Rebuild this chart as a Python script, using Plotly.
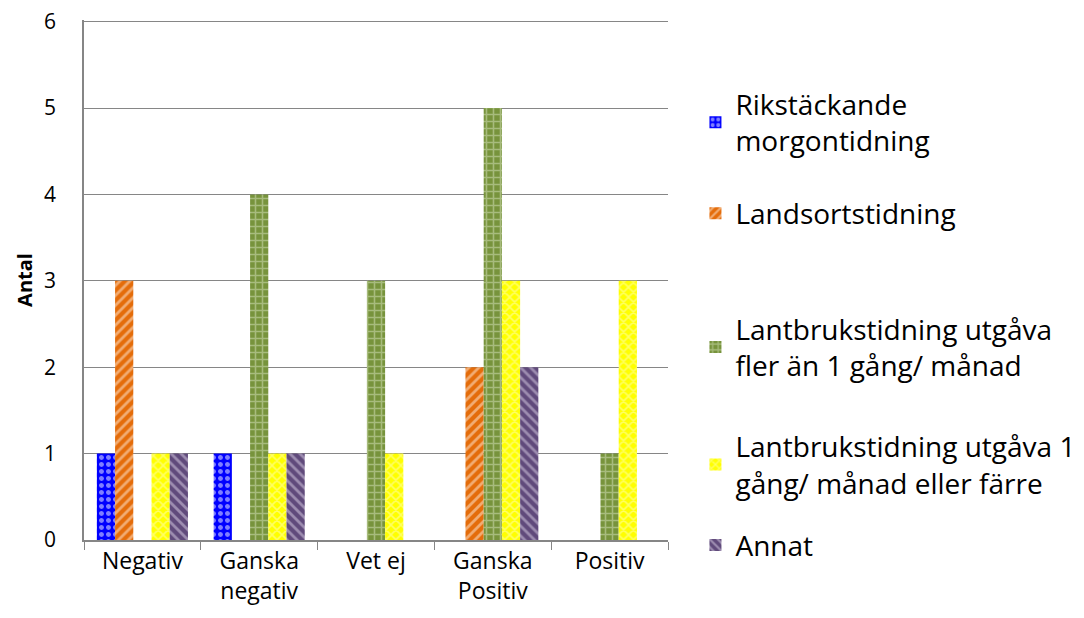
import plotly.graph_objects as go

categories = ["Negativ", "Ganska<br>negativ", "Vet ej", "Ganska<br>Positiv", "Positiv"]

series_names = [
    "Rikstäckande<br>morgontidning",
    "Landsortstidning",
    "Lantbrukstidning utgåva<br>fler än 1 gång/ månad",
    "Lantbrukstidning utgåva 1<br>gång/ månad eller färre",
    "Annat",
]

rikstackande = [1, 1, 0, 0, 0]
landsort = [3, 0, 0, 2, 0]
lantbruk_fler = [0, 4, 3, 5, 1]
lantbruk_en = [1, 1, 1, 3, 3]
annat = [1, 1, 0, 2, 0]

values = [rikstackande, landsort, lantbruk_fler, lantbruk_en, annat]

# bg colour, pattern shape, pattern colour
styles = [
    ("#0000FF", ".", "white"),
    ("#E46C0A", "/", "#FDEBDB"),
    ("#77933C", "+", "#D7E4BD"),
    ("#FFFF00", "x", "#FFFFC8"),
    ("#604A7B", "\\", "#D9D0E6"),
]

# Excel spreads the legend entries unevenly, so each one gets its own legend box
legend_ids = ["legend", "legend2", "legend3", "legend4", "legend5"]
legend_y = [0.803, 0.628, 0.371, 0.145, -0.01]

fig = go.Figure()
for name, vals, (bg, shape, fg), lid in zip(series_names, values, styles, legend_ids):
    fig.add_trace(go.Bar(
        x=categories, y=vals, name=name, legend=lid, showlegend=True,
        marker=dict(
            color=bg,
            line=dict(width=0),
            pattern=dict(shape=shape, fgcolor=fg, bgcolor=bg,
                         size=7, solidity=0.4, fillmode="overlay"),
        ),
    ))

legend_style = dict(x=1.047, xanchor="left", yanchor="middle",
                    font=dict(size=28), itemwidth=30, bgcolor="rgba(0,0,0,0)")

fig.update_layout(
    width=1084, height=618,
    showlegend=True,
    barmode="group", bargap=0.22, bargroupgap=0,
    plot_bgcolor="white", paper_bgcolor="white",
    font=dict(family="Open Sans, sans-serif", color="black", size=22),
    margin=dict(l=76, r=414, t=12, b=86),
    xaxis=dict(
        automargin=False,
        showline=True, linecolor="#868686", linewidth=1.5,
        ticks="outside", tickson="boundaries", ticklen=8, tickcolor="#868686",
        tickfont=dict(size=23),
    ),
    yaxis=dict(
        automargin=False,
        range=[0, 6.02], tickvals=[0, 1, 2, 3, 4, 5, 6],
        showline=True, linecolor="#868686", linewidth=1.5,
        showgrid=True, gridcolor="#868686", gridwidth=1,
        ticks="", ticklabelstandoff=22, ticklabeloverflow="allow",
        tickfont=dict(size=21),
        title=dict(text="<b>Antal</b>", font=dict(size=20), standoff=6),
        zeroline=False,
    ),
)
for lid, ly in zip(legend_ids, legend_y):
    fig.update_layout({lid: dict(legend_style, y=ly)})

fig.write_html("out.html")
